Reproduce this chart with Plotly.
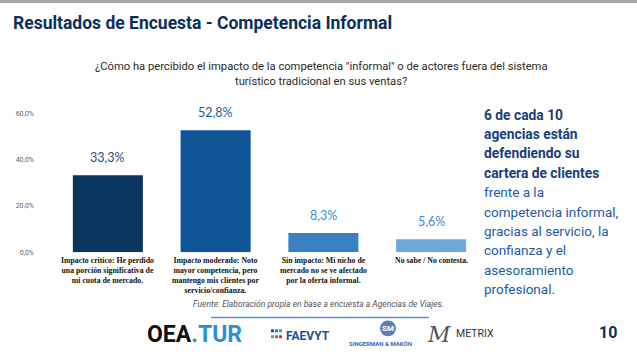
import plotly.graph_objects as go

W, H = 637, 361

categories = ["Impacto crítico", "Impacto moderado", "Sin impacto", "No sabe / No contesta"]
category_lines = [
    ["Impacto crítico: He perdido", "una porción significativa de", "mi cuota de mercado."],
    ["Impacto moderado: Noto", "mayor competencia, pero", "mantengo mis clientes por", "servicio/confianza."],
    ["Sin impacto: Mi nicho de", "mercado no se ve afectado", "por la oferta informal."],
    ["No sabe / No contesta."],
]
values = [33.3, 52.8, 8.3, 5.6]
value_labels = ["33,3%", "52,8%", "8,3%", "5,6%"]
bar_colors = ["#0a3561", "#0e5496", "#3b80c3", "#6fa8dd"]
label_colors = ["#1d4c8c", "#1d5a9e", "#3d8ad4", "#3d8ad4"]
y_ticks = [0, 20, 40, 60]
y_tick_text = ["0,0%", "20,0%", "40,0%", "60,0%"]

title = "Resultados de Encuesta - Competencia Informal"
question = ["¿Cómo ha percibido el impacto de la competencia \"informal\" o de actores fuera del sistema",
            "turístico tradicional en sus ventas?"]
side_bold = ["6 de cada 10", "agencias están", "defendiendo su", "cartera de clientes"]
side_regular = ["frente a la", "competencia informal,", "gracias al servicio, la",
                "confianza y el", "asesoramiento", "profesional."]
source = "Fuente: Elaboración propia en base a encuesta a Agencias de Viajes."
page = "10"

fig = go.Figure(go.Bar(
    x=categories, y=values, marker=dict(color=bar_colors, line=dict(width=0)),
    width=0.65, hoverinfo="skip",
))

def px(x):
    return x / W

def py(y):
    return 1 - y / H

y_top = 65
fig.update_layout(
    width=W, height=H, margin=dict(l=0, r=0, t=0, b=0),
    paper_bgcolor="white", plot_bgcolor="rgba(0,0,0,0)",
    separators=",.", showlegend=False,
    xaxis=dict(domain=[px(54), px(485)], showticklabels=False, showgrid=False,
               zeroline=False, showline=False, fixedrange=True),
    yaxis=dict(domain=[py(255), py(255 - y_top * 140 / 60)], range=[0, y_top],
               tickvals=y_ticks, ticktext=y_tick_text,
               showgrid=False, zeroline=False, showline=False,
               tickfont=dict(family="Roboto", size=7, color="#666666"),
               ticklabelstandoff=19, fixedrange=True),
)

ann = []
# value labels
for c, v, t, col in zip(categories, values, value_labels, label_colors):
    ann.append(dict(x=c, y=v, xref="x", yref="y", text=t, showarrow=False,
                    yanchor="bottom", yshift=8,
                    font=dict(family="Lato", size=12.5, color=col)))
# category labels
for c, lines in zip(categories, category_lines):
    ann.append(dict(x=c, y=0, xref="x", yref="y", text="<b>" + "<br>".join(lines) + "</b>",
                    showarrow=False, yanchor="top", yshift=-2,
                    font=dict(family="Liberation Serif", size=7.8, color="#111111")))
# title
ann.append(dict(x=px(11), y=py(23), xref="paper", yref="paper", text="<b>" + title + "</b>",
                showarrow=False, xanchor="left", yanchor="middle",
                font=dict(family="Roboto", size=17.5, color="#0b2f5c")))
# question
for i, ln in enumerate(question):
    ann.append(dict(x=px(321), y=py(67 + 15 * i), xref="paper", yref="paper", text=ln,
                    showarrow=False, xanchor="center", yanchor="middle",
                    font=dict(family="Roboto", size=11.2, color="#2a2a2a")))
# side text
for i, ln in enumerate(side_bold + side_regular):
    bold = i < len(side_bold)
    ann.append(dict(x=px(482), y=py(116 + 19.6 * i), xref="paper", yref="paper",
                    text=("<b>" + ln + "</b>") if bold else ln,
                    showarrow=False, xanchor="left", yanchor="middle",
                    font=dict(family="Roboto", size=13.8 if bold else 13.5,
                              color="#17407a" if bold else "#1f5aa6")))
# source
ann.append(dict(x=px(319), y=py(307), xref="paper", yref="paper", text="<i>" + source + "</i>",
                showarrow=False, xanchor="center", yanchor="middle",
                font=dict(family="Roboto", size=8.5, color="#555555")))
# logos as text
ann.append(dict(x=px(145), y=py(338), xref="paper", yref="paper",
                text="<b>OEA<span style='color:#2e8fd6'>.TUR</span></b>",
                showarrow=False, xanchor="left", yanchor="middle",
                font=dict(family="Roboto", size=23, color="#111111")))
ann.append(dict(x=px(284), y=py(340), xref="paper", yref="paper", text="<b>FAEVYT</b>",
                showarrow=False, xanchor="left", yanchor="middle",
                font=dict(family="Roboto", size=12, color="#1c4f9c")))
ann.append(dict(x=px(380), y=py(347), xref="paper", yref="paper", text="<b>SINGERMAN & MAKÓN</b>",
                showarrow=False, xanchor="center", yanchor="middle",
                font=dict(family="Roboto", size=6, color="#2d6fb8")))
ann.append(dict(x=px(388), y=py(332), xref="paper", yref="paper", text="<b>SM</b>",
                showarrow=False, xanchor="center", yanchor="middle",
                font=dict(family="Roboto", size=8, color="#ffffff")))
ann.append(dict(x=px(454), y=py(337), xref="paper", yref="paper", text="METRIX",
                showarrow=False, xanchor="left", yanchor="middle",
                font=dict(family="Roboto", size=10.5, color="#333333")))
ann.append(dict(x=px(439), y=py(338), xref="paper", yref="paper", text="<i>M</i>",
                showarrow=False, xanchor="center", yanchor="middle",
                font=dict(family="DejaVu Serif", size=22, color="#555555")))
ann.append(dict(x=px(608), y=py(336), xref="paper", yref="paper", text="<b>" + page + "</b>",
                showarrow=False, xanchor="center", yanchor="middle",
                font=dict(family="Roboto", size=16, color="#0b2f5c")))
fig.update_layout(annotations=ann)

shapes = [
    dict(type="rect", xref="paper", yref="paper", x0=0, x1=1, y0=py(3), y1=1,
         fillcolor="#a7a7a7", line=dict(width=0), layer="below"),
    dict(type="line", xref="paper", yref="paper", x0=px(211), x1=px(429), y0=py(321), y1=py(321),
         line=dict(color="#5a8fd0", width=1.5)),
    dict(type="circle", xref="paper", yref="paper", x0=px(380), x1=px(396), y0=py(340), y1=py(324),
         fillcolor="#5c7fb5", line=dict(width=0)),
]
# FAEVYT icon squares
faevyt_colors = ["#1c4f9c", "#2a7bc4", "#2fa6c6", "#3bb3a0", "#e0463c", "#c0392b"]
for i, col in enumerate(faevyt_colors):
    cx = 271 + (i % 3) * 4
    cy = 333 + (i // 3) * 6
    shapes.append(dict(type="rect", xref="paper", yref="paper", x0=px(cx), x1=px(cx + 3),
                       y0=py(cy + 3), y1=py(cy), fillcolor=col, line=dict(width=0)))
fig.update_layout(shapes=shapes)

fig.write_html("out.html")
